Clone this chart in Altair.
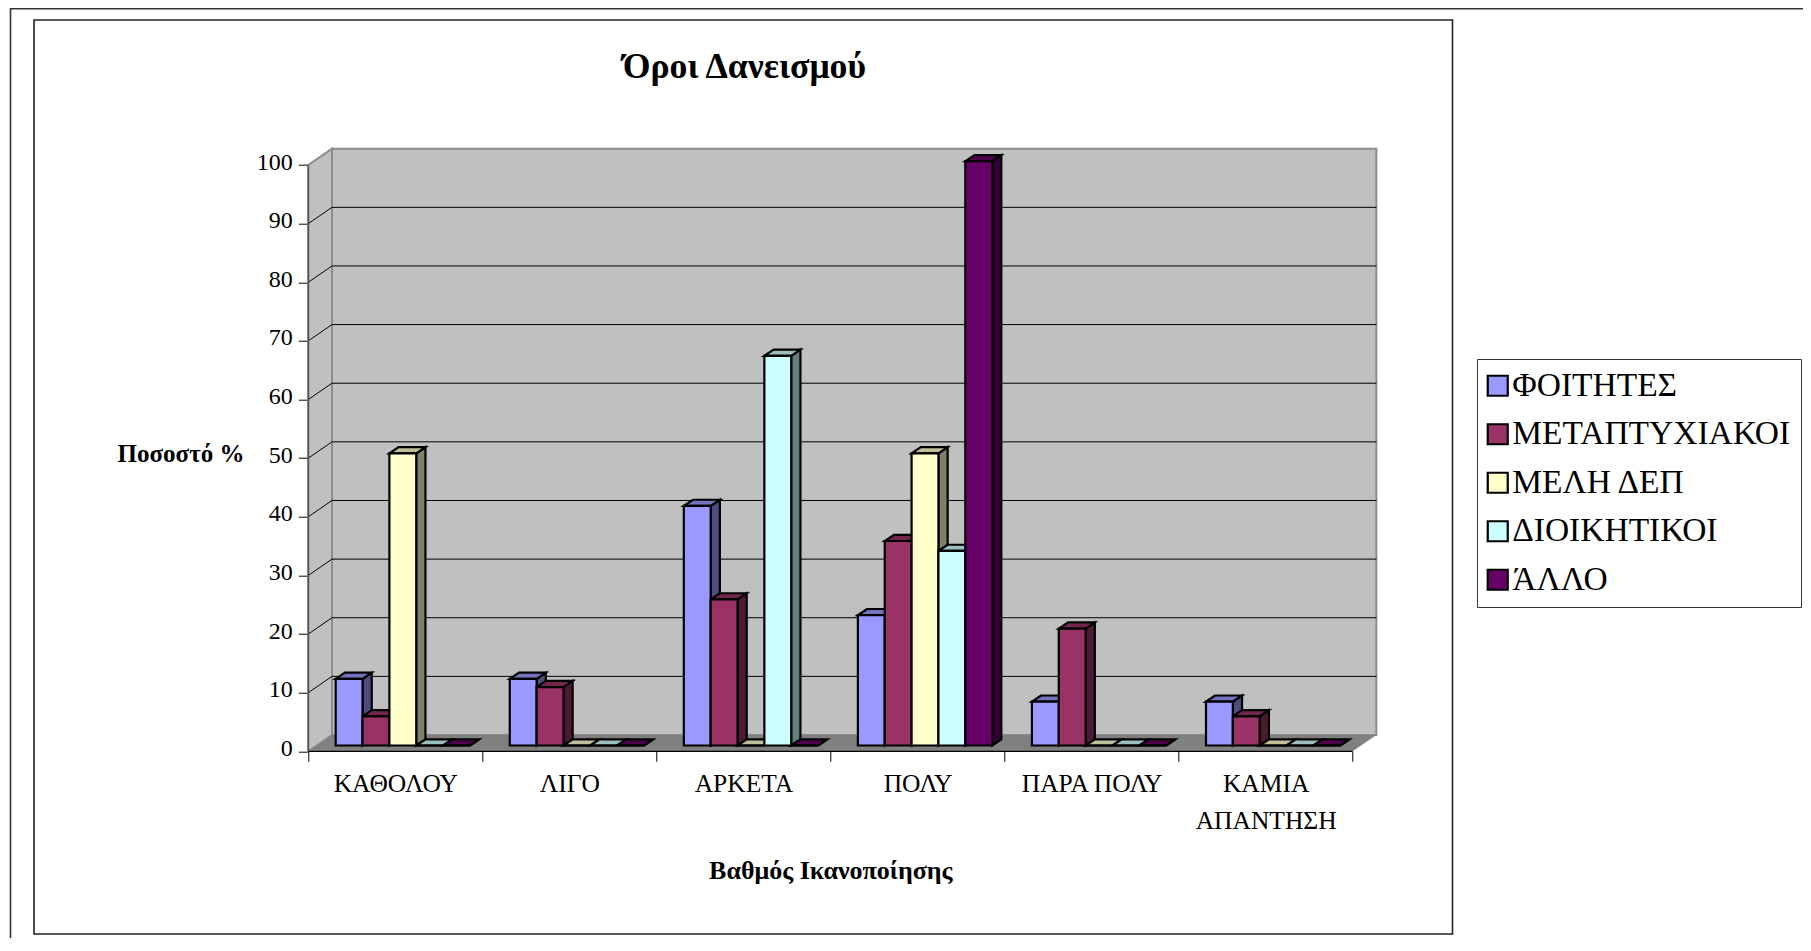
import altair as alt
import pandas as pd

CATEGORIES = ["ΚΑΘΟΛΟΥ", "ΛΙΓΟ", "ΑΡΚΕΤΑ", "ΠΟΛΥ", "ΠΑΡΑ ΠΟΛΥ", "ΚΑΜΙΑ|ΑΠΑΝΤΗΣΗ"]
SERIES = ["ΦΟΙΤΗΤΕΣ", "ΜΕΤΑΠΤΥΧΙΑΚΟΙ", "ΜΕΛΗ ΔΕΠ", "ΔΙΟΙΚΗΤΙΚΟΙ", "ΆΛΛΟ"]
FOITITES = [11.4, 11.4, 41, 22.3, 7.5, 7.5]
METAPTYXIAKOI = [5, 10, 25, 35, 20, 5]
MELI_DEP = [50, 0, 0, 50, 0, 0]
DIOIKITIKOI = [0, 0, 66.7, 33.3, 0, 0]
ALLO = [0, 0, 0, 100, 0, 0]
VALUES = [FOITITES, METAPTYXIAKOI, MELI_DEP, DIOIKITIKOI, ALLO]
Y_TICKS = list(range(0, 101, 10))

FRONT = ["#9999FF", "#993366", "#FFFFCC", "#CCFFFF", "#660066"]
TOP = ["#7373BF", "#73264D", "#BFBF99", "#99BFBF", "#4D004D"]
SIDE = ["#4D4D80", "#4D1A33", "#808066", "#668080", "#330033"]
FONT = "Liberation Serif"

# layout (pixels on the page)
X0, Y0 = 308.3, 751.3      # front-left corner of the floor
PX_CAT, PX_UNIT = 174.06, 5.863
BACK_DX, BACK_DY = 23.7, 16.3
W = 6 * PX_CAT + BACK_DX
H = 100 * PX_UNIT + BACK_DY
PAD_L, PAD_T = X0 - 8, Y0 - H - 8
PAD_R, PAD_B = 1795 - PAD_L - W, 930 - PAD_T - H

bdx, bdy = BACK_DX / PX_CAT, BACK_DY / PX_UNIT
bar_start = 27.4 / PX_CAT
bar_w = 26.85 / PX_CAT
bar_base = 5.8 / PX_UNIT
bar_dx, bar_dy = 9.2 / PX_CAT, 6.2 / PX_UNIT
bar_scale = 0.9965         # the bars sit deeper in the 3D box than the front axis plane

xs = alt.Scale(domain=[0, 6 + bdx], nice=False, zero=False)
ys = alt.Scale(domain=[0, 100 + bdy], nice=False, zero=False)
NOAX = dict(axis=None)


def X(f="x"):
    return alt.X(f"{f}:Q", scale=xs, **NOAX)


def Y(f="y"):
    return alt.Y(f"{f}:Q", scale=ys, **NOAX)


fronts, tops, sides = [], [], []
for i in range(len(CATEGORIES)):
    for j, s in enumerate(SERIES):
        v = VALUES[j][i]
        l = i + bar_start + j * bar_w
        r = l + bar_w
        t = bar_base + v * bar_scale
        key = f"{i}-{j}"
        fronts.append(dict(series=s, x=l, x2=r, y=bar_base, y2=t))
        tops.append(dict(key=key, series=s, y=t, x=l, x2=r))
        tops.append(dict(key=key, series=s, y=t + bar_dy, x=l + bar_dx, x2=r + bar_dx))
        sides.append(dict(key=key, series=s, x=r, y=bar_base, y2=t))
        sides.append(dict(key=key, series=s, x=r + bar_dx, y=bar_base + bar_dy, y2=t + bar_dy))

one = pd.DataFrame({"a": [0]})

frame_outer = alt.Chart(one).mark_rect(filled=False, stroke="#333333", strokeWidth=1.6).encode(
    x=alt.value(10.5 - X0), x2=alt.value(1900 - X0), y=alt.value(8.8 - Y0 + H), y2=alt.value(1100 - Y0 + H))
frame_inner = alt.Chart(one).mark_rect(filled=False, stroke="#222222", strokeWidth=1.6).encode(
    x=alt.value(34 - X0), x2=alt.value(1452.5 - X0), y=alt.value(20 - Y0 + H), y2=alt.value(934 - Y0 + H))

back_wall = alt.Chart(pd.DataFrame([dict(x=bdx, x2=6 + bdx, y=bdy, y2=100 + bdy)])).mark_rect(
    fill="#C0C0C0", stroke="#8C8C8C", strokeWidth=2
).encode(x=X(), x2="x2:Q", y=Y(), y2="y2:Q")

left_wall = alt.Chart(pd.DataFrame([dict(x=0, y=0, y2=100), dict(x=bdx, y=bdy, y2=100 + bdy)])).mark_area(
    fill="#C0C0C0", stroke="#8C8C8C", strokeWidth=2, opacity=1
).encode(x=X(), y=Y(), y2="y2:Q")

floor = alt.Chart(pd.DataFrame([dict(y=0, x=0, x2=6), dict(y=bdy, x=bdx, x2=6 + bdx)])).mark_area(
    orient="horizontal", fill="#808080", opacity=1
).encode(y=Y(), x=X(), x2="x2:Q")

grid_back = alt.Chart(pd.DataFrame([dict(x=bdx, x2=6 + bdx, y=t + bdy) for t in Y_TICKS[1:-1]])).mark_rule(
    color="#000000", strokeWidth=1
).encode(x=X(), x2="x2:Q", y=Y())

grid_left_rows = []
for t in Y_TICKS[1:-1]:
    grid_left_rows += [dict(t=t, x=0, y=t), dict(t=t, x=bdx, y=t + bdy)]
grid_left = alt.Chart(pd.DataFrame(grid_left_rows)).mark_line(color="#000000", strokeWidth=1).encode(
    x=X(), y=Y(), detail="t:N")

axis_left = alt.Chart(pd.DataFrame([dict(x=0, y=0, y2=100)])).mark_rule(color="#555555", strokeWidth=1.6).encode(
    x=X(), y=Y(), y2="y2:Q")
axis_base = alt.Chart(pd.DataFrame([dict(x=0, x2=6, y=0)])).mark_rule(color="#000000", strokeWidth=1.2).encode(
    x=X(), x2="x2:Q", y=Y())

label_expr = "split(" + str(CATEGORIES) + "[datum.value] || '', '|')"
axes = alt.Chart(pd.DataFrame([dict(x=0, y=0)])).mark_point(opacity=0).encode(
    x=alt.X("x:Q", scale=xs, axis=alt.Axis(
        values=list(range(7)), title="Βαθμός Ικανοποίησης", domain=False, grid=False,
        tickColor="#000000", tickSize=10, tickWidth=1,
        labelExpr=label_expr, labelOffset=PX_CAT / 2, labelFlush=False, labelOverlap=False, labelBound=False,
        labelFont=FONT, labelFontSize=25.5, labelColor="#000000", labelPadding=10, labelLineHeight=37,
        titleFont=FONT, titleFontSize=26, titleFontWeight="bold", titleColor="#000000",
        titleX=522, titleY=118.7, titleBaseline="middle", titleAlign="center")),
    y=alt.Y("y:Q", scale=ys, axis=alt.Axis(
        values=Y_TICKS, title="Ποσοστό %", domain=False, grid=False,
        tickColor="#000000", tickSize=10, tickWidth=1,
        labelFont=FONT, labelFontSize=24, labelColor="#000000", labelPadding=6, labelOffset=-3,
        titleFont=FONT, titleFontSize=25, titleFontWeight="bold", titleColor="#000000", titleAngle=0,
        titleX=-127.8, titleY=305, titleBaseline="middle", titleAlign="center")),
)

side_layer = alt.Chart(pd.DataFrame(sides)).mark_area(stroke="#000000", strokeWidth=2.2, opacity=1).encode(
    x=X(), y=Y(), y2="y2:Q", detail="key:N",
    fill=alt.Fill("series:N", scale=alt.Scale(domain=SERIES, range=SIDE), legend=None))
top_layer = alt.Chart(pd.DataFrame(tops)).mark_area(orient="horizontal", stroke="#000000", strokeWidth=2.2, opacity=1).encode(
    y=Y(), x=X(), x2="x2:Q", detail="key:N",
    fill=alt.Fill("series:N", scale=alt.Scale(domain=SERIES, range=TOP), legend=None))
front_layer = alt.Chart(pd.DataFrame(fronts)).mark_rect(stroke="#000000", strokeWidth=2.2, opacity=1).encode(
    x=X(), x2="x2:Q", y=Y(), y2="y2:Q",
    fill=alt.Fill("series:N", scale=alt.Scale(domain=SERIES, range=FRONT), sort=SERIES,
                  legend=alt.Legend(
                      title=None, orient="none", legendX=1477 - X0, legendY=359 - (Y0 - H),
                      symbolType="square", symbolSize=400, symbolStrokeWidth=2.2, symbolStrokeColor="#000000",
                      symbolOffset={"expr": "-6"},
                      symbolOpacity=1, labelFont=FONT, labelFontSize=33.5, labelColor="#000000",
                      labelOffset={"expr": "-2.3"},
                      labelLimit=400, rowPadding=13.5, padding=10,
                      strokeColor="#333333", fillColor="#FFFFFF")))

chart = alt.layer(
    frame_outer, frame_inner, axes, back_wall, left_wall, floor, grid_back, grid_left, axis_left, axis_base,
    side_layer, top_layer, front_layer,
).resolve_scale(fill="independent").resolve_axis(x="independent", y="independent").properties(
    width=W, height=H,
    autosize=alt.AutoSizeParams(type="none"),
    padding={"left": PAD_L, "top": PAD_T, "right": PAD_R, "bottom": PAD_B},
    background="#FFFFFF",
    title=alt.TitleParams("Όροι Δανεισμού", font=FONT, fontSize=35.7, fontWeight="bold", color="#000000",
                          anchor="start", dx=613, offset=0, dy=112.6, baseline="bottom"),
).configure_view(stroke=None)

chart.save("out.html", embed_options={"renderer": "svg", "actions": False})
